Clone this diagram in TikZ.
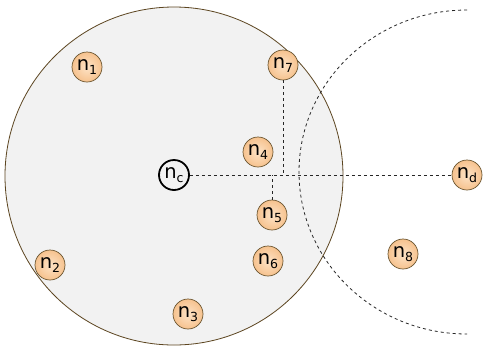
\documentclass[tikz,border=0pt]{standalone}
\usepackage{fontspec}
\setmainfont{DejaVu Sans}
\newcommand{\sbs}[1]{\raisebox{-0.4ex}{\fontsize{12.5}{12.5}\selectfont #1}}
\begin{document}
\begin{tikzpicture}[x=1pt,y=-1pt,
  nd/.style={circle,draw=nodeedge,line width=0.7pt,minimum size=30pt,inner sep=0pt,
    inner color=nodein,outer color=nodeout,font=\fontsize{19.5}{19.5}\selectfont},
  ndc/.style={circle,draw=black,line width=1.8pt,minimum size=30pt,inner sep=0pt,
    fill=bgfill,font=\fontsize{19.5}{19.5}\selectfont},
  dl/.style={draw=black!85,line width=0.8pt,dash pattern=on 3pt off 3pt}]
\definecolor{nodein}{HTML}{FDE3C6}
\definecolor{nodeout}{HTML}{F6C28E}
\definecolor{nodeedge}{HTML}{6B5530}
\definecolor{bgfill}{HTML}{F2F2F2}
\definecolor{circedge}{HTML}{5C4520}
\useasboundingbox (0,0) rectangle (484,346);
\fill[white] (0,0) rectangle (484,346);
\draw[circedge,fill=bgfill,line width=0.8pt] (174,176) circle[radius=169];
\draw[dl] (467,10) arc[start angle=-90,end angle=-270,x radius=168,y radius=162];
\coordinate (j7) at (283,175);
\coordinate (j5) at (272,175);
\node[ndc] (nc) at (174,175) {n\sbs{c}};
\node[nd] (n1) at (87,67) {n\sbs{1}};
\node[nd] (n2) at (50,265) {n\sbs{2}};
\node[nd] (n3) at (188,314) {n\sbs{3}};
\node[nd] (n4) at (258,152) {n\sbs{4}};
\node[nd] (n5) at (272,215) {n\sbs{5}};
\node[nd] (n6) at (268,261) {n\sbs{6}};
\node[nd] (n7) at (283,65) {n\sbs{7}};
\node[nd] (n8) at (403,254) {n\sbs{8}};
\node[nd] (ndn) at (467,175) {n\sbs{d}};
\draw[dl] (nc) -- (ndn);
\draw[dl] (n7) -- (j7);
\draw[dl] (n5) -- (j5);
\end{tikzpicture}
\end{document}
